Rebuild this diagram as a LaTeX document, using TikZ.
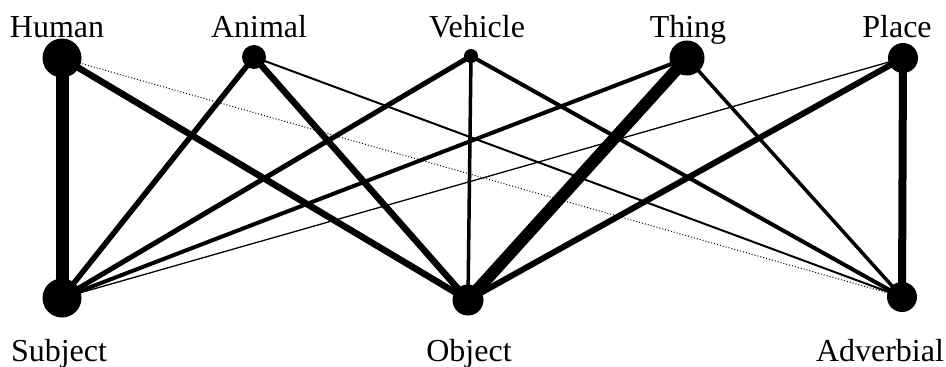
\documentclass[tikz,border=0pt]{standalone}
\usepackage{fontspec}
\setmainfont{Liberation Serif}
\begin{document}
\begin{tikzpicture}[x=1pt,y=-1pt,
  dot/.style={circle,fill=black,inner sep=0pt,minimum size=#1},
  lab/.style={anchor=base,inner sep=0pt,font=\fontsize{32}{37}\selectfont},
  edge/.style={line width=#1}]
\useasboundingbox (0,0) rectangle (946,367);
% nodes
\node[dot=39pt] (hu) at (62,58) {};
\node[dot=24pt] (an) at (254,57) {};
\node[dot=14pt] (ve) at (471,56) {};
\node[dot=35pt] (th) at (687,58) {};
\node[dot=30pt] (pl) at (903,58) {};
\node[dot=39pt] (su) at (62,298) {};
\node[dot=31pt] (ob) at (468,300) {};
\node[dot=30pt] (ad) at (902,297) {};
% labels
\node[lab] (lhu) at (57,37) {Human};
\node[lab] (lan) at (259,37) {Animal};
\node[lab] (lve) at (477,37) {Vehicle};
\node[lab] (lth) at (688,37) {Thing};
\node[lab] (lpl) at (897,37) {Place};
\node[lab] (lsu) at (59,361) {Subject};
\node[lab] (lob) at (469,361) {Object};
\node[lab] (lad) at (880,361) {Adverbial};
% edges
\draw[edge=13pt] (hu.center) -- (su.center);
\draw[edge=6.5pt] (hu.center) -- (ob.center);
\draw[edge=1pt,dotted] (hu.center) -- (ad.center);
\draw[edge=5.5pt] (an.center) -- (su.center);
\draw[edge=6.5pt] (an.center) -- (ob.center);
\draw[edge=2pt] (an.center) -- (ad.center);
\draw[edge=5pt] (ve.center) -- (su.center);
\draw[edge=3.5pt] (ve.center) -- (ob.center);
\draw[edge=4pt] (ve.center) -- (ad.center);
\draw[edge=4pt] (th.center) -- (su.center);
\draw[edge=12pt] (th.center) -- (ob.center);
\draw[edge=3.5pt] (th.center) -- (ad.center);
\draw[edge=1.3pt] (pl.center) -- (su.center);
\draw[edge=6pt] (pl.center) -- (ob.center);
\draw[edge=8pt] (pl.center) -- (ad.center);
\end{tikzpicture}
\end{document}
